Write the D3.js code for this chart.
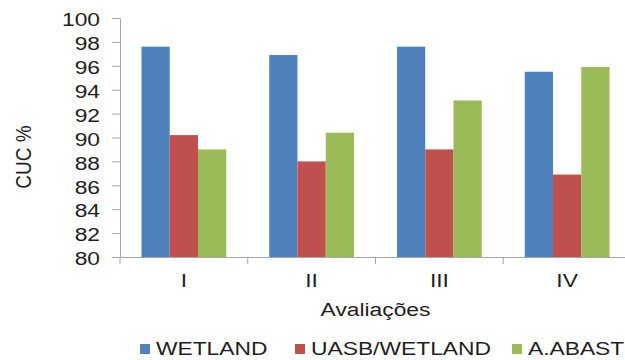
<!DOCTYPE html>
<html>
<head>
<meta charset="utf-8">
<script src="https://cdn.jsdelivr.net/npm/d3@7"></script>
<style>
  html, body { margin: 0; padding: 0; background: #fff; }
  svg { display: block; }
  text { font-family: "Liberation Sans", Arial, sans-serif; fill: #1e1e1e; }
</style>
</head>
<body>
<svg id="chart" width="625" height="360"></svg>
<script>
// Avaliações (x categories)
const categories = ["I", "II", "III", "IV"];
// Series names
const seriesNames = ["WETLAND", "UASB/WETLAND", "A.ABAST"];
// CUC % per evaluation
const wetland = [97.6, 96.9, 97.6, 95.5];
const uasbWetland = [90.2, 88.0, 89.0, 86.9];
const aAbast = [89.0, 90.4, 93.1, 95.9];
// y-axis tick labels
const yTicks = [80, 82, 84, 86, 88, 90, 92, 94, 96, 98, 100];

const seriesValues = [wetland, uasbWetland, aAbast];
const colors = ["#4F81BD", "#C0504D", "#9BBB59"];
const axisColor = "#a6a6a6";
const fontSize = 19;
const stretch = 1.2; // horizontal text stretch

const svg = d3.select("#chart");

const plot = { left: 120, right: 631, top: 18, bottom: 257 };

const x0 = d3.scaleBand().domain(categories).range([plot.left, plot.right]).padding(0);
const x1 = d3.scaleBand().domain(seriesNames).range([0, x0.bandwidth()])
  .paddingInner(0).paddingOuter(0.76);
const y = d3.scaleLinear().domain([80, 100]).range([plot.bottom, plot.top]);

// bars
const rows = categories.map((c, i) => ({
  cat: c,
  vals: seriesNames.map((s, j) => ({ series: s, j, value: seriesValues[j][i] }))
}));

const groups = svg.append("g").selectAll("g").data(rows).join("g")
  .attr("transform", d => `translate(${x0(d.cat)},0)`);

groups.selectAll("rect").data(d => d.vals).join("rect")
  .attr("x", d => x1(d.series))
  .attr("width", x1.bandwidth())
  .attr("y", d => y(d.value))
  .attr("height", d => y(80) - y(d.value))
  .attr("fill", d => colors[d.j]);

// y axis
const yAxis = svg.append("g")
  .attr("transform", `translate(${plot.left},0)`)
  .call(d3.axisLeft(y).tickValues(yTicks).tickSize(8).tickSizeOuter(0).tickFormat(d3.format("d")));
yAxis.select(".domain").attr("stroke", axisColor);
yAxis.selectAll(".tick line").attr("stroke", axisColor);
yAxis.selectAll(".tick text")
  .attr("x", null).attr("dy", null)
  .attr("text-anchor", "end")
  .attr("dominant-baseline", "central")
  .attr("font-size", fontSize)
  .attr("font-family", "Liberation Sans, Arial, sans-serif")
  .attr("fill", "#1e1e1e")
  .attr("transform", `translate(-20,1) scale(${stretch},1)`);

// x axis
const xAxis = svg.append("g")
  .attr("transform", `translate(0,${plot.bottom})`)
  .call(d3.axisBottom(x0).tickSize(0).tickSizeOuter(0));
xAxis.select(".domain").attr("stroke", axisColor);
xAxis.selectAll(".tick text")
  .attr("y", null).attr("dy", null)
  .attr("font-size", fontSize)
  .attr("font-family", "Liberation Sans, Arial, sans-serif")
  .attr("fill", "#1e1e1e")
  .attr("transform", `translate(0,30) scale(${stretch},1)`);

// category boundary ticks
const bounds = categories.map(c => x0(c)).concat([x0.range()[1]]);
xAxis.selectAll(".bound").data(bounds).join("line")
  .attr("class", "bound")
  .attr("x1", d => d).attr("x2", d => d)
  .attr("y1", 0).attr("y2", 7)
  .attr("stroke", axisColor);

// axis titles
svg.append("text")
  .attr("text-anchor", "middle")
  .attr("font-size", fontSize)
  .attr("transform", `translate(${(plot.left + plot.right) / 2},316) scale(${stretch},1)`)
  .text("Avaliações");

svg.append("text")
  .attr("text-anchor", "middle")
  .attr("font-size", fontSize)
  .attr("transform", `translate(31,157) scale(${stretch},1) rotate(-90)`)
  .text("CUC %");

// legend
const legendX = [140, 295, 512];
const legend = svg.append("g").selectAll("g").data(seriesNames).join("g")
  .attr("transform", (d, i) => `translate(${legendX[i]},0)`);
legend.append("rect")
  .attr("x", 0).attr("y", 344).attr("width", 10).attr("height", 10)
  .attr("fill", (d, i) => colors[i]);
legend.append("text")
  .attr("font-size", fontSize)
  .attr("transform", `translate(16,355) scale(${stretch},1)`)
  .each(function (d) {
    const t = d3.select(this).text(d);
    if (d === "UASB/WETLAND") t.attr("textLength", 150).attr("lengthAdjust", "spacingAndGlyphs");
  });
</script>
</body>
</html>
